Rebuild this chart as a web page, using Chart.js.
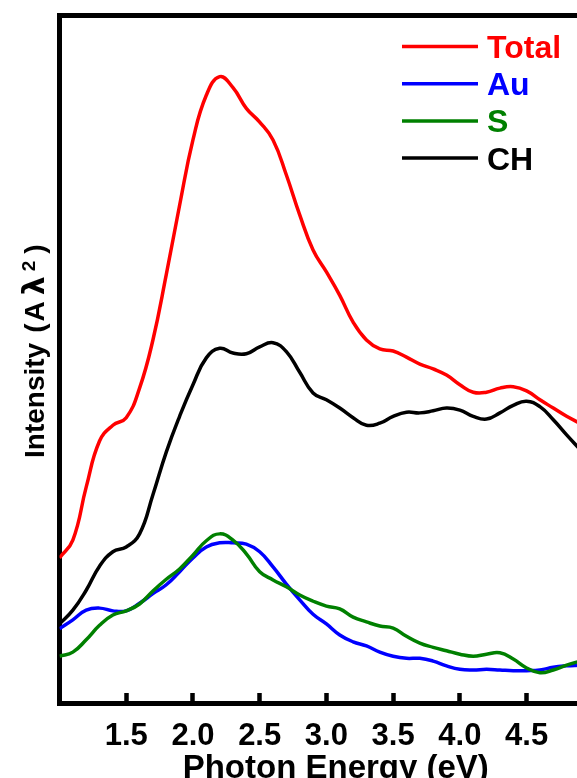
<!DOCTYPE html>
<html>
<head>
<meta charset="utf-8">
<script src="https://cdn.jsdelivr.net/npm/chart.js@4.4.1/dist/chart.umd.min.js"></script>
<style>
  html, body { margin: 0; padding: 0; background: #fff; overflow: hidden; }
  #wrap { width: 577px; height: 778px; overflow: hidden; }
</style>
</head>
<body>
<div id="wrap"><canvas id="chart" width="612" height="778"></canvas></div>
<script>
// Photon energy (eV) sample points
const energy = [1.0, 1.1, 1.2, 1.3, 1.4, 1.5, 1.6, 1.7, 1.8, 1.9,
                2.0, 2.1, 2.2, 2.3, 2.4, 2.5, 2.6, 2.7, 2.8, 2.9,
                3.0, 3.1, 3.2, 3.3, 3.4, 3.5, 3.6, 3.7, 3.8, 3.9,
                4.0, 4.1, 4.2, 4.3, 4.4, 4.5, 4.6, 4.7, 4.8, 4.9];

// Intensity (arb. units)
const total = [21.1, 23.7, 31.4, 38.1, 40.4, 41.5, 45.8, 52.8, 62.3, 72.4,
               81.9, 88.4, 91.1, 89.5, 86.5, 84.5, 81.9, 76.8, 71.0, 65.9,
               62.7, 59.3, 55.4, 52.8, 51.5, 51.2, 50.3, 49.3, 48.6, 47.7,
               46.3, 45.2, 45.2, 45.8, 46.0, 45.4, 44.1, 42.9, 41.7, 40.7];
const au    = [10.8, 12.1, 13.5, 13.8, 13.4, 13.4, 14.5, 15.9, 17.2, 19.1,
               21.1, 22.7, 23.3, 23.3, 23.1, 22.0, 19.8, 17.3, 15.0, 12.9,
               11.5, 9.9, 8.9, 8.3, 7.4, 6.8, 6.5, 6.5, 6.1, 5.4,
               4.9, 4.8, 4.9, 4.8, 4.7, 4.7, 4.8, 5.2, 5.4, 5.5];
const s     = [6.8, 7.4, 9.2, 11.3, 12.8, 13.4, 14.4, 16.3, 18.0, 19.5,
               21.5, 23.6, 24.6, 23.7, 21.7, 19.1, 17.9, 16.9, 15.7, 14.8,
               14.1, 13.7, 12.5, 11.8, 11.2, 10.9, 9.7, 8.7, 8.1, 7.6,
               7.1, 6.8, 7.1, 7.3, 6.4, 5.1, 4.4, 4.8, 5.5, 6.1];
const ch    = [11.5, 13.5, 16.4, 19.9, 22.0, 22.7, 24.6, 30.3, 36.5, 41.7,
               46.3, 50.2, 51.6, 50.9, 50.8, 51.8, 52.4, 51.1, 48.1, 45.1,
               44.1, 42.9, 41.5, 40.4, 40.7, 41.7, 42.3, 42.2, 42.5, 42.9,
               42.6, 41.7, 41.3, 42.2, 43.3, 43.9, 43.1, 41.2, 39.0, 36.9];

const tickValues = [1.5, 2.0, 2.5, 3.0, 3.5, 4.0, 4.5];

const FONT = "'Liberation Sans', Arial, sans-serif";
Chart.defaults.font.family = FONT;
Chart.defaults.color = '#000';

const series = [
  { label: 'Total', values: total, color: '#ff0000', order: 1 },
  { label: 'Au', values: au, color: '#0000ff', order: 2 },
  { label: 'S', values: s, color: '#008000', order: 1 },
  { label: 'CH', values: ch, color: '#000000', order: 1 }
];

// frame top line, legend and y title with superscript
const decorPlugin = {
  id: 'decor',
  afterDraw(chart) {
    const { ctx, chartArea: a } = chart;
    ctx.save();
    ctx.strokeStyle = '#000';
    ctx.lineWidth = 5;
    ctx.beginPath();
    ctx.moveTo(a.left - 2.5, a.top);
    ctx.lineTo(a.right, a.top);
    ctx.stroke();

    // legend
    chart.data.datasets.forEach((ds, i) => {
      const y = 46.5 + i * 37.2;
      ctx.strokeStyle = ds.borderColor;
      ctx.lineWidth = 3.5;
      ctx.beginPath();
      ctx.moveTo(402, y);
      ctx.lineTo(478, y);
      ctx.stroke();
      ctx.fillStyle = ds.borderColor;
      ctx.font = `bold 32px ${FONT}`;
      ctx.textBaseline = 'alphabetic';
      ctx.textAlign = 'left';
      ctx.fillText(ds.label, 487, y + 11.5);
    });

    // y axis title
    ctx.fillStyle = '#000';
    ctx.translate(44, 458);
    ctx.rotate(-Math.PI / 2);
    let x = 0;
    const put = (t, font, dy, gap) => {
      ctx.font = font;
      ctx.fillText(t, x, dy);
      x += ctx.measureText(t).width + gap;
    };
    put('Intensity', `bold 28px ${FONT}`, 0, 10);
    put('(', `bold 28px ${FONT}`, 0, 2);
    put('A', `bold 28px ${FONT}`, 0, 6);
    put('λ', `bold 30px 'DejaVu Sans', sans-serif`, 0, 5);
    put('2', `bold 19px ${FONT}`, -9, 7);
    put(')', `bold 28px ${FONT}`, 0, 0);
    ctx.restore();
  }
};

new Chart(document.getElementById('chart'), {
  type: 'line',
  data: {
    datasets: series.map(sr => ({
      label: sr.label,
      data: energy.map((e, i) => ({ x: e, y: sr.values[i] })),
      borderColor: sr.color,
      backgroundColor: sr.color,
      borderWidth: 3.5,
      pointRadius: 0,
      tension: 0.45,
      fill: false,
      order: sr.order
    }))
  },
  options: {
    responsive: false,
    animation: false,
    layout: { padding: { top: 15.5, right: 0, bottom: 0, left: 0 } },
    plugins: {
      legend: { display: false },
      tooltip: { enabled: false }
    },
    scales: {
      x: {
        type: 'linear',
        min: 1.0,
        max: 5.14,
        afterBuildTicks: sc => { sc.ticks = tickValues.map(v => ({ value: v })); },
        afterFit: sc => { sc.height = 75; },
        border: { display: true, color: '#000', width: 5 },
        grid: { drawOnChartArea: false, drawTicks: true, tickLength: -10, tickWidth: 4.5, color: '#000' },
        ticks: {
          autoSkip: false,
          maxRotation: 0,
          padding: 24.5,
          color: '#000',
          font: { size: 31, weight: 'bold' },
          callback: v => Number(v).toFixed(1)
        },
        title: {
          display: true,
          text: 'Photon Energy (eV)',
          color: '#000',
          padding: 0,
          font: { size: 33, weight: 'bold', lineHeight: 0.57 }
        }
      },
      y: {
        min: 0,
        max: 100,
        afterFit: sc => { sc.width = 59.5; },
        border: { display: true, color: '#000', width: 5 },
        grid: { display: false },
        ticks: { display: false }
      }
    }
  },
  plugins: [decorPlugin]
});
</script>
</body>
</html>
